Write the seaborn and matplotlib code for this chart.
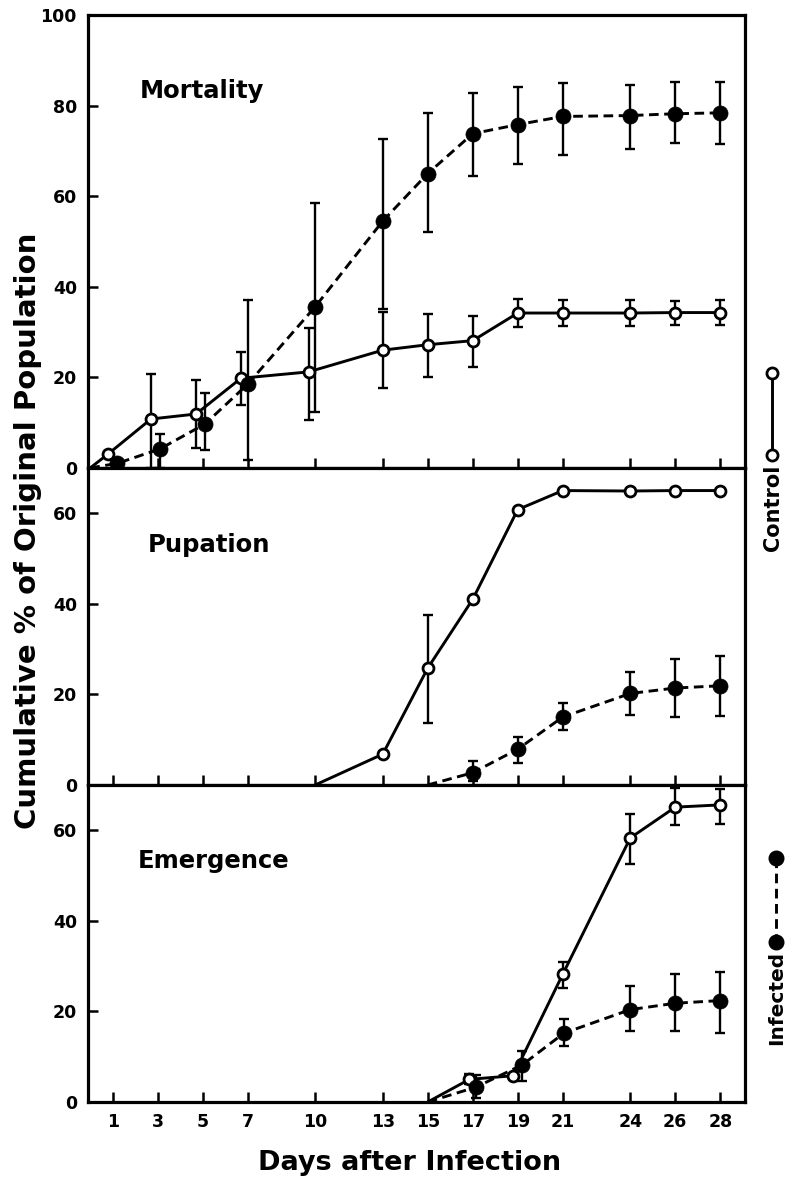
import numpy as np
import pandas as pd
import matplotlib
matplotlib.use("Agg")
import matplotlib.pyplot as plt
import seaborn as sns
from matplotlib.lines import Line2D

# ---------------- data ----------------
day_ticks = [1, 3, 5, 7, 10, 13, 15, 17, 19, 21, 24, 26, 28]

# Mortality
mort_start = (0.0, 0.0)
mort_ctrl_day = [0.8, 2.7, 4.7, 6.7, 9.7, 13, 15, 17, 19, 21, 24, 26, 28]
mort_ctrl = [3.1, 10.8, 11.9, 19.8, 21.2, 26.0, 27.2, 28.1, 34.2, 34.2, 34.2, 34.3, 34.3]
mort_ctrl_hi = [np.nan, 20.7, 19.5, 25.5, 30.9, 34.4, 34.0, 33.5, 37.2, 37.0, 37.0, 36.9, 37.0]
mort_ctrl_lo = [np.nan, 0.0, 4.5, 13.9, 10.6, 17.6, 20.0, 22.3, 31.2, 31.4, 31.4, 31.6, 31.5]
mort_inf_day = [1.2, 3.1, 5.1, 7.0, 10.0, 13, 15, 17, 19, 21, 24, 26, 28]
mort_inf = [1.0, 4.2, 9.7, 18.5, 35.6, 54.5, 65.0, 73.8, 75.8, 77.6, 77.8, 78.2, 78.4]
mort_inf_hi = [np.nan, 7.5, 16.6, 37.0, 58.5, 72.6, 78.3, 82.8, 84.0, 85.0, 84.5, 85.1, 85.1]
mort_inf_lo = [np.nan, 0.0, 4.0, 1.8, 12.4, 35.0, 52.0, 64.5, 67.2, 69.0, 70.5, 71.8, 71.6]

# Pupation
pup_ctrl_start = (10.0, 0.0)
pup_ctrl_day = [13, 15, 17, 19, 21, 24, 26, 28]
pup_ctrl = [6.8, 25.8, 41.0, 60.8, 65.0, 64.9, 65.0, 65.0]
pup_ctrl_hi = [np.nan, 37.6, np.nan, np.nan, np.nan, np.nan, np.nan, np.nan]
pup_ctrl_lo = [np.nan, 13.6, np.nan, np.nan, np.nan, np.nan, np.nan, np.nan]
pup_inf_start = (15.0, 0.0)
pup_inf_day = [17, 19, 21, 24, 26, 28]
pup_inf = [2.7, 7.9, 15.0, 20.2, 21.4, 21.9]
pup_inf_hi = [5.3, 10.5, 18.1, 25.0, 27.8, 28.5]
pup_inf_lo = [0.8, 4.8, 12.2, 15.4, 15.0, 15.3]

# Emergence
em_ctrl_start = (15.0, 0.0)
em_ctrl_day = [16.85, 18.8, 21, 24, 26, 28]
em_ctrl = [5.0, 5.8, 28.2, 58.3, 65.1, 65.6]
em_ctrl_hi = [6.1, np.nan, 30.9, 63.6, 69.3, 69.2]
em_ctrl_lo = [4.0, np.nan, 25.1, 52.6, 61.1, 61.4]
em_inf_start = (15.0, 0.0)
em_inf_day = [17.15, 19.2, 21.05, 24, 26, 28]
em_inf = [3.3, 8.2, 15.2, 20.4, 21.8, 22.4]
em_inf_hi = [5.9, 11.3, 18.3, 25.7, 28.2, 28.8]
em_inf_lo = [0.8, 4.7, 12.3, 15.7, 15.6, 15.3]

panels = [
    ("Mortality", (0.079, 0.817), 100, [0, 20, 40, 60, 80, 100],
     mort_start, mort_ctrl_day, mort_ctrl, mort_ctrl_hi, mort_ctrl_lo,
     mort_start, mort_inf_day, mort_inf, mort_inf_hi, mort_inf_lo),
    ("Pupation", (0.091, 0.736), 70, [0, 20, 40, 60],
     pup_ctrl_start, pup_ctrl_day, pup_ctrl, pup_ctrl_hi, pup_ctrl_lo,
     pup_inf_start, pup_inf_day, pup_inf, pup_inf_hi, pup_inf_lo),
    ("Emergence", (0.076, 0.738), 70, [0, 20, 40, 60],
     em_ctrl_start, em_ctrl_day, em_ctrl, em_ctrl_hi, em_ctrl_lo,
     em_inf_start, em_inf_day, em_inf, em_inf_hi, em_inf_lo),
]

# ---------------- style ----------------
sns.set_theme(style="white")
plt.rcParams["font.family"] = ["DejaVu Sans"]
plt.rcParams["font.weight"] = "bold"
plt.rcParams["text.color"] = "black"
plt.rcParams["axes.labelcolor"] = "black"
plt.rcParams["xtick.color"] = "black"
plt.rcParams["ytick.color"] = "black"

W, H = 786, 1181
fig = plt.figure(figsize=(W / 100, H / 100), dpi=100)
gs = fig.add_gridspec(3, 1, height_ratios=[100, 70, 70], hspace=0,
                      left=88 / W, right=745 / W, top=1 - 15 / H, bottom=1 - 1102 / H)

LW = 2.1
DASH = (3.3, 1.9)
axes = []
for i, p in enumerate(panels):
    (title, tpos, ymax, yt,
     cs, cd, cv, chi, clo,
     isr, idy, iv, ihi, ilo) = p
    ax = fig.add_subplot(gs[i], sharex=axes[0] if axes else None)
    axes.append(ax)

    df = pd.DataFrame({
        "day": [cs[0]] + list(cd) + [isr[0]] + list(idy),
        "value": [cs[1]] + list(cv) + [isr[1]] + list(iv),
        "group": ["Control"] * (len(cd) + 1) + ["Infected"] * (len(idy) + 1),
    })
    sns.lineplot(data=df, x="day", y="value", hue="group", style="group",
                 palette={"Control": "black", "Infected": "black"},
                 dashes={"Control": "", "Infected": DASH},
                 estimator=None, sort=False, legend=False, lw=LW,
                 ax=ax, zorder=2)

    for d, v, hi, lo in [(cd, cv, chi, clo), (idy, iv, ihi, ilo)]:
        d = np.asarray(d, float); v = np.asarray(v, float)
        hi = np.asarray(hi, float); lo = np.asarray(lo, float)
        m = ~np.isnan(hi)
        if m.any():
            ax.errorbar(d[m], v[m], yerr=[v[m] - lo[m], hi[m] - v[m]], fmt="none",
                        ecolor="black", elinewidth=1.7, capsize=3.4, capthick=1.7,
                        zorder=3, clip_on=False)

    sns.scatterplot(x=cd, y=cv, marker="o", s=62, color="white", edgecolor="black",
                    linewidth=2.0, ax=ax, zorder=4, clip_on=False)
    sns.scatterplot(x=idy, y=iv, marker="o", s=118, color="black", edgecolor="black",
                    linewidth=0.5, ax=ax, zorder=5, clip_on=False)

    ax.set_ylim(0, ymax)
    ax.set_yticks(yt)
    ax.set_xlim(-0.1, 29.1)
    ax.set_xticks(day_ticks)
    ax.set_xlabel("")
    ax.set_ylabel("")
    for s in ax.spines.values():
        s.set_linewidth(2.3)
        s.set_color("black")
    ax.tick_params(axis="both", direction="in", length=7, width=1.8, colors="black",
                   labelsize=12.5, pad=8, top=False, right=False, left=True, bottom=True)
    for lab in ax.get_yticklabels():
        lab.set_fontweight("bold")
    if i < 2:
        ax.tick_params(axis="x", labelbottom=False)
    else:
        for lab in ax.get_xticklabels():
            lab.set_fontweight("bold")
    ax.text(tpos[0], tpos[1], title, transform=ax.transAxes, fontsize=17.5,
            fontweight="bold", va="baseline", ha="left", color="black")


def fx(px):
    return px / W


def fy(py):
    return 1 - py / H


fig.text(fx(28), fy(531), "Cumulative % of Original Population", rotation=90,
         ha="center", va="center", fontsize=21, fontweight="bold", color="black")
fig.text(fx(410), fy(1170), "Days after Infection", ha="center", va="baseline",
         fontsize=19.5, fontweight="bold", color="black")

# legend keys at the right
fig.add_artist(Line2D([fx(772), fx(772)], [fy(373), fy(455)], color="black", lw=LW))
fig.add_artist(Line2D([fx(772), fx(772)], [fy(373), fy(455)], ls="none", marker="o",
                      ms=8, mfc="white", mec="black", mew=2.0))
fig.text(fx(773), fy(508), "Control", rotation=90, ha="center", va="center",
         fontsize=15, fontweight="bold", color="black")

fig.add_artist(Line2D([fx(776), fx(776)], [fy(858), fy(942)], color="black", lw=LW,
                      dashes=DASH))
fig.add_artist(Line2D([fx(776), fx(776)], [fy(858), fy(942)], ls="none", marker="o",
                      ms=10.5, mfc="black", mec="black"))
fig.text(fx(777), fy(998), "Infected", rotation=90, ha="center", va="center",
         fontsize=14.5, fontweight="bold", color="black")

fig.savefig("out.png", dpi=100)
